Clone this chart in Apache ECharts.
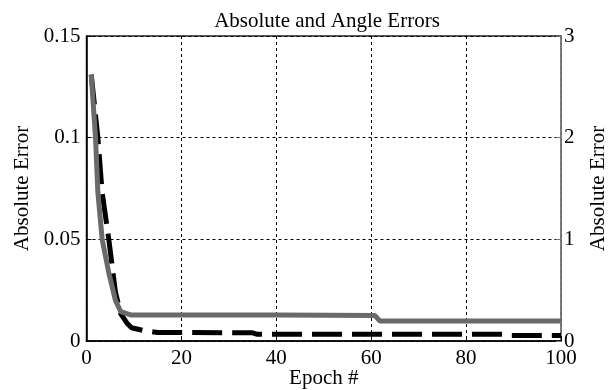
<!DOCTYPE html>
<html>
<head>
<meta charset="utf-8">
<script src="https://cdn.jsdelivr.net/npm/echarts@6/dist/echarts.min.js"></script>
<style>html,body{margin:0;padding:0;background:#fff}#c{width:612px;height:390px}</style>
</head>
<body>
<div id="c"></div>
<script>
// Absolute error (left axis), black dashed
const absEpochs = [1, 2.4, 3.3, 4.7, 6.1, 7.2, 8.5, 9.5, 12, 15, 35, 36, 88, 89, 100];
const absValues = [0.131, 0.1, 0.073, 0.05, 0.024, 0.0135, 0.0089, 0.0065, 0.0052, 0.0042, 0.004, 0.0033, 0.0033, 0.0027, 0.0027];
// Angle error (right axis), gray solid
const angEpochs = [1, 1.9, 2.4, 3.3, 4.7, 6.1, 7.2, 9.3, 40, 60.8, 61.8, 100];
const angValues = [2.62, 2.0, 1.46, 1.0, 0.67, 0.4, 0.29, 0.256, 0.256, 0.25, 0.197, 0.197];
const xTicks = [0, 20, 40, 60, 80, 100];
const leftTicks = [0, 0.05, 0.1, 0.15];
const rightTicks = [0, 1, 2, 3];

const font = 'Liberation Serif, Times New Roman, serif';
const chart = echarts.init(document.getElementById('c'));
chart.setOption({
  animation: false,
  title: {
    text: 'Absolute and Angle Errors',
    left: 322, top: 6, textAlign: 'center',
    textStyle: {fontFamily: font, fontSize: 21, fontWeight: 'normal', color: '#000'}
  },
  grid: {left: 86.5, right: 51, top: 36, bottom: 49, show: true, borderColor: '#222', borderWidth: 1.5,
    backgroundColor: 'transparent', outerBoundsMode: 'none', containLabel: false},
  xAxis: {
    type: 'value', min: xTicks[0], max: xTicks[xTicks.length-1], interval: 20,
    name: 'Epoch #', nameLocation: 'middle', nameGap: 27, nameMoveOverlap: false,
    nameTextStyle: {fontFamily: font, fontSize: 21, color: '#000'},
    axisLine: {lineStyle: {color: '#000', width: 1.5}},
    axisTick: {inside: true, length: 5, lineStyle: {color: '#000'}},
    axisLabel: {fontFamily: font, fontSize: 21, color: '#000', margin: 7},
    splitLine: {show: true, lineStyle: {color: '#000', type: [3, 3], width: 1}}
  },
  yAxis: [{
    type: 'value', min: 0, max: 0.15, interval: 0.05, position: 'left',
    name: 'Absolute Error', nameLocation: 'middle', nameGap: 54, nameRotate: 90, nameMoveOverlap: false,
    nameTextStyle: {fontFamily: font, fontSize: 21, color: '#000'},
    axisLine: {show: true, lineStyle: {color: '#000', width: 1.5}},
    axisTick: {show: true, inside: true, length: 5, lineStyle: {color: '#000'}},
    axisLabel: {fontFamily: font, fontSize: 21, color: '#000', margin: 6,
      formatter: v => String(Math.round(v * 100) / 100)},
    splitLine: {show: true, lineStyle: {color: '#000', type: [3, 3], width: 1}}
  }, {
    type: 'value', min: 0, max: 3, interval: 1, position: 'right',
    name: 'Absolute Error', nameLocation: 'middle', nameGap: 27, nameRotate: 90, nameMoveOverlap: false,
    nameTextStyle: {fontFamily: font, fontSize: 21, color: '#000'},
    axisLine: {show: true, lineStyle: {color: '#888', width: 1.5}},
    axisTick: {show: true, inside: true, length: 5, lineStyle: {color: '#777'}},
    axisLabel: {fontFamily: font, fontSize: 21, color: '#000', margin: 3},
    splitLine: {show: false}
  }],
  series: [{
    type: 'line', yAxisIndex: 0, symbol: 'none', z: 2,
    data: absEpochs.map((x, i) => [x, absValues[i]]),
    lineStyle: {color: '#000', width: 5, type: [30, 10]}
  }, {
    type: 'line', yAxisIndex: 1, symbol: 'none', z: 3,
    data: angEpochs.map((x, i) => [x, angValues[i]]),
    lineStyle: {color: '#6a6a6a', width: 5}
  }]
});
</script>
</body>
</html>
